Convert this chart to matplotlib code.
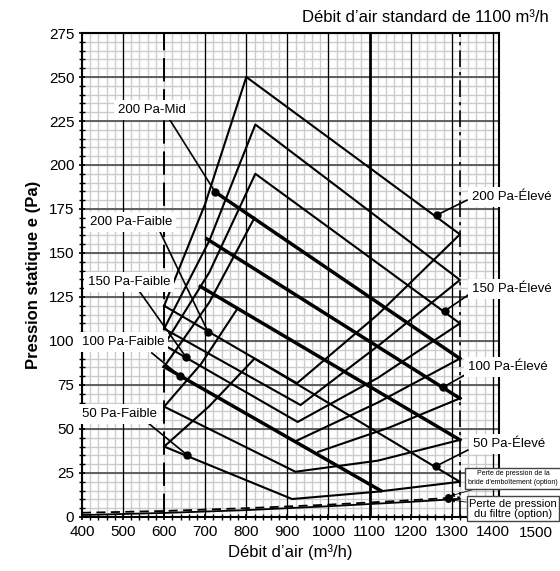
import numpy as np
import matplotlib.pyplot as plt
from matplotlib import font_manager

plt.rcParams['font.family'] = ['Liberation Sans', 'DejaVu Sans']

# thin zones: left vertex, left curve, peak, right vertex, right curve, bottom vertex
q1_x = [600, 700, 800, 1320, 1120, 923.5, 600]
q1_y = [120, 178, 250, 160.6, 115, 76, 120]
q2_x = [600, 710, 822, 1320, 1125, 932, 600]
q2_y = [107, 157, 223, 134.7, 98, 63.6, 107]
q3_x = [600, 710, 822, 1320, 1120, 925, 600]
q3_y = [97.7, 139, 195, 110, 79, 54, 97.7]
q6_x = [600, 710, 820, 1320, 1120, 911.5, 600]
q6_y = [40, 63, 90, 20, 14.4, 10.2, 40]
# zones whose top is a thick line
q4_left_x = [600, 710, 820]
q4_left_y = [85.4, 122, 170]
q4_right_x = [1320, 1120, 923]
q4_right_y = [90, 65, 43.4]
q5_x = [779, 690, 600, 919.5, 1120, 1320]
q5_y = [118.6, 87, 62.7, 25.7, 32, 43.8]
r67_x = [1320, 1150, 975]
r67_y = [67.4, 51, 37]

# thick lines
mid_200_x = [724, 1320]
mid_200_y = [184.7, 90]
top_100_x = [704, 1320]
top_100_y = [158, 67.4]
mid_b_x = [688, 1320]
mid_b_y = [131, 43.8]
low_100_x = [600, 1127]
low_100_y = [85.4, 15]

filtre_x = [400, 600, 800, 1000, 1200, 1320]
filtre_y = [1.1, 2.3, 3.9, 6.1, 8.6, 10.3]
bride_x = [400, 600, 800, 1000, 1200, 1320]
bride_y = [2.4, 3.4, 5.0, 7.0, 9.5, 11.2]

labels = ['200 Pa-Mid', '200 Pa-Faible', '150 Pa-Faible', '100 Pa-Faible', '50 Pa-Faible',
          '200 Pa-Élevé', '150 Pa-Élevé', '100 Pa-Élevé', '50 Pa-Élevé']
mark_x = [724, 707, 653, 638, 656, 1264, 1283, 1278, 1261]
mark_y = [184.7, 105.1, 90.9, 80.1, 35.2, 171.6, 117, 73.6, 28.8]
lead_x = [614, 590, 541, 570, 561, 1337, 1339, 1332, 1339]
lead_y = [225.6, 162, 127.8, 93.2, 53.4, 180, 126, 80.7, 38]
text_x = [570, 519, 514, 500, 492, 1349, 1349, 1339, 1351]
text_y = [231, 167.6, 133.5, 99.4, 58.5, 181.8, 129.5, 85.2, 41.5]

fig = plt.figure(figsize=(5.6, 5.71), dpi=100)
ax = fig.add_axes([0.1464, 0.0946, 0.7446, 0.8476])
ax.set_xlim(400, 1415)
ax.set_ylim(0, 275)

# grid
for x in range(400, 1415, 20):
    ax.axvline(x, color='#cccccc', lw=1.0, zorder=0)
for y in range(0, 276, 5):
    ax.axhline(y, color='#cccccc', lw=1.0, zorder=0)
for y in range(25, 276, 25):
    ax.axhline(y, color='#555555', lw=1.3, zorder=1)
for x in range(500, 1415, 100):
    if x in (600, 1100):
        continue
    ax.axvline(x, color='black', lw=0.9, zorder=1)
ax.axvline(600, color='black', lw=1.4, ls=(0, (12, 4)), zorder=1)
ax.axvline(1100, color='black', lw=2.0, zorder=1)
ax.axvline(1320, color='black', lw=1.2, ls=(0, (10, 3, 2, 3)), zorder=1)

for zx, zy in [(q1_x, q1_y), (q2_x, q2_y), (q3_x, q3_y), (q6_x, q6_y),
               (q4_left_x, q4_left_y), (q4_right_x, q4_right_y), (q5_x, q5_y), (r67_x, r67_y)]:
    ax.plot(zx, zy, color='black', lw=1.5, zorder=3)
for zx, zy in [(mid_200_x, mid_200_y), (top_100_x, top_100_y),
               (mid_b_x, mid_b_y), (low_100_x, low_100_y)]:
    ax.plot(zx, zy, color='black', lw=2.5, zorder=3)

ax.plot(filtre_x, filtre_y, color='black', lw=1.3, zorder=3)
ax.plot(bride_x, bride_y, color='black', lw=1.3, ls=(0, (5, 3)), zorder=3)

# labels with leader lines
for lab, mx, my, lx, ly, tx, ty in zip(labels, mark_x, mark_y, lead_x, lead_y, text_x, text_y):
    ha = 'left' if tx > 1300 else 'center'
    ax.plot([lx, mx], [ly, my], color='black', lw=1.2, zorder=4, clip_on=False)
    ax.text(tx, ty, lab, fontsize=9.5, ha=ha, va='center', zorder=5, clip_on=False,
            bbox=dict(boxstyle='square,pad=0.3', fc='white', ec='none'))
    ax.plot(mx, my, 'o', color='black', ms=5, zorder=6)

try:
    font_manager.findfont('Liberation Sans Narrow', fallback_to_default=False)
    narrow, nsize = ['Liberation Sans Narrow', 'Liberation Sans'], 6.0
except ValueError:
    narrow, nsize = ['Liberation Sans', 'DejaVu Sans'], 5.0

ax.plot([1290, 1290], [10.3, 11.2], 'o', color='black', ms=4, zorder=6)
ax.annotate("Perte de pression de la\nbride d'emboîtement (option)", xy=(1290, 11.5),
            xytext=(1449, 22), fontsize=nsize, ha='center', va='center', linespacing=1.35,
            family=narrow,
            bbox=dict(boxstyle='square,pad=0.4', fc='white', ec='#444444', lw=1),
            arrowprops=dict(arrowstyle='-|>', color='black', lw=0.6, mutation_scale=6,
                            shrinkA=0, shrinkB=2),
            annotation_clip=False, zorder=7)
ax.annotate("Perte de pression\ndu filtre (option)", xy=(1290, 10.0),
            xytext=(1449, 4.6), fontsize=8.0, ha='center', va='center', linespacing=1.05,
            bbox=dict(boxstyle='square,pad=0.2', fc='white', ec='#444444', lw=1),
            arrowprops=dict(arrowstyle='-|>', color='black', lw=0.6, mutation_scale=6,
                            shrinkA=0, shrinkB=2),
            annotation_clip=False, zorder=7)

ax.set_xticks(range(400, 1401, 100))
ax.set_xticks(range(400, 1415, 20), minor=True)
ax.set_yticks(range(0, 276, 25))
ax.set_yticks(range(0, 276, 5), minor=True)
ax.tick_params(axis='both', which='major', labelsize=11, length=4, direction='inout', width=1.2)
ax.tick_params(axis='both', which='minor', length=4, direction='inout', width=1)
ax.text(1505, -5, '1500', fontsize=11, ha='center', va='top', clip_on=False)
for s in ax.spines.values():
    s.set_linewidth(1.5)

ax.set_xlabel("Débit d’air (m³/h)", fontsize=12, labelpad=4)
ax.set_ylabel('Pression statique e (Pa)', fontsize=12, fontweight='bold', labelpad=6)
fig.text(0.98, 0.969, 'Débit d’air standard de 1100 m³/h', fontsize=12, ha='right', va='center')

fig.savefig('out.png', dpi=100)
